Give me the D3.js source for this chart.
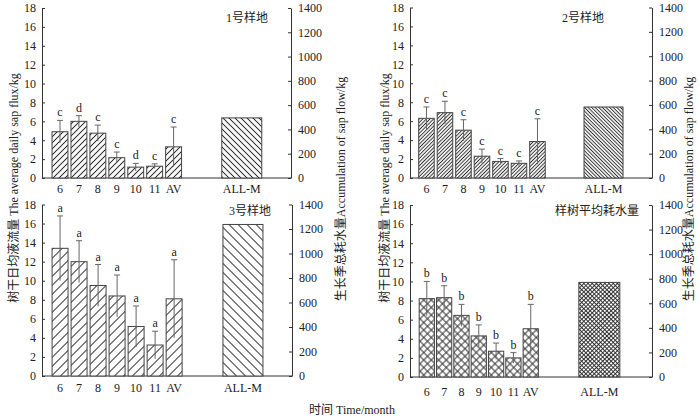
<!DOCTYPE html>
<html><head><meta charset="utf-8">
<script src="https://cdn.jsdelivr.net/npm/d3@7"></script>
<style>
body{margin:0;background:#fff;}
svg text{font-family:"Liberation Serif","Times New Roman","Noto Sans CJK SC",serif;fill:#222;}
</style></head>
<body><svg id="c" width="700" height="419"></svg>
<script>
// ---- data ----
const months = ["6","7","8","9","10","11","AV"];
const totalLabel = "ALL-M";
const leftTicks = [0,2,4,6,8,10,12,14,16,18];
const rightTicks = [0,200,400,600,800,1000,1200,1400];

const site1Mean = [4.9, 6.0, 4.75, 2.15, 1.15, 1.25, 3.3];
const site1Err  = [1.2, 0.6, 0.85, 0.6, 0.4, 0.25, 2.1];
const site1Letters = ["c","d","c","c","d","c","c"];
const site1Total = 495;

const site2Mean = [6.3, 6.9, 5.05, 2.3, 1.75, 1.55, 3.85];
const site2Err  = [1.2, 1.2, 1.1, 0.75, 0.3, 0.25, 2.4];
const site2Letters = ["c","c","c","c","c","c","c"];
const site2Total = 583;

const site3Mean = [13.4, 12.0, 9.5, 8.4, 5.2, 3.25, 8.1];
const site3Err  = [3.4, 2.2, 2.2, 2.2, 2.15, 1.45, 4.1];
const site3Letters = ["a","a","a","a","a","a","a"];
const site3Total = 1237;

const avgMean = [8.2, 8.3, 6.45, 4.3, 2.7, 2.0, 5.05];
const avgErr  = [1.8, 1.25, 1.15, 1.15, 0.85, 0.55, 2.55];
const avgLetters = ["b","b","b","b","b","b","b"];
const avgTotal = 770;

const titles = ["1号样地","2号样地","3号样地","样树平均耗水量"];
const leftLabel = "树干日均液流量 The average daily sap flux/kg";
const rightLabel = "生长季总耗水量Accumulation of sap flow/kg";
const xLabel = "时间 Time/month";

// ---- drawing ----
const FONT = '"Liberation Serif","Times New Roman","Noto Sans CJK SC",serif';
const svg = d3.select("#c");
const defs = svg.append("defs");
const ink = "#333";

function hatch(id, h, angle, cross){
  const s = h/Math.SQRT2;
  const p = defs.append("pattern").attr("id",id).attr("patternUnits","userSpaceOnUse")
    .attr("width",s).attr("height",s).attr("patternTransform",`rotate(${angle})`);
  p.append("rect").attr("width",s).attr("height",s).attr("fill","#fff");
  p.append("line").attr("x1",s/2).attr("y1",0).attr("x2",s/2).attr("y2",s)
    .attr("stroke",ink).attr("stroke-width",1);
  if(cross) p.append("line").attr("x1",0).attr("y1",s/2).attr("x2",s).attr("y2",s/2)
    .attr("stroke",ink).attr("stroke-width",1);
}
hatch("p1m",6,45,false); hatch("p1t",6,-45,false);
hatch("p2m",3.6,45,false); hatch("p2t",3.6,-45,false);
hatch("p3m",9,45,false); hatch("p3t",9,-45,false);
hatch("p4m",7.5,45,true); hatch("p4t",4.2,45,true);

const panels = [
  {mean:site1Mean, err:site1Err, letters:site1Letters, total:site1Total, title:titles[0],
   x0:42,x1:291,yTop:8,yBot:178, dom:[-0.95,12.2], allPos:9.6, allW:40, bw:0.84,
   pm:"p1m",pt:"p1t", tx:247, ty:22, xly:193},
  {mean:site2Mean, err:site2Err, letters:site2Letters, total:site2Total, title:titles[1],
   x0:410,x1:652,yTop:7.5,yBot:178, dom:[-0.89,12.19], allPos:9.57, allW:39, bw:0.84,
   pm:"p2m",pt:"p2t", tx:583, ty:22, xly:193},
  {mean:site3Mean, err:site3Err, letters:site3Letters, total:site3Total, title:titles[2],
   x0:42,x1:292,yTop:204.5,yBot:376, dom:[-0.95,12.2], allPos:9.62, allW:40, bw:0.84,
   pm:"p3m",pt:"p3t", tx:250, ty:215, xly:392},
  {mean:avgMean, err:avgErr, letters:avgLetters, total:avgTotal, title:titles[3],
   x0:410,x1:652,yTop:205,yBot:377, dom:[-0.97,13.0], allPos:9.96, allW:41, bw:0.88,
   pm:"p4m",pt:"p4t", tx:597, ty:215, xly:396}
];

panels.forEach(P=>{
  const g = svg.append("g");
  const x = d3.scaleLinear().domain(P.dom).range([P.x0,P.x1]);
  const y = d3.scaleLinear().domain([0,18]).range([P.yBot,P.yTop]);
  const y2 = d3.scaleLinear().domain([0,1400]).range([P.yBot,P.yTop]);
  const pitch = x(1)-x(0);
  const bw = pitch*P.bw;

  // axes
  const la = g.append("g").attr("transform",`translate(${P.x0},0)`)
    .call(d3.axisLeft(y).tickValues(leftTicks).tickFormat(d3.format("d")).tickSizeInner(-3).tickSizeOuter(0).tickPadding(6));
  const ra = g.append("g").attr("transform",`translate(${P.x1},0)`)
    .call(d3.axisRight(y2).tickValues(rightTicks).tickFormat(d3.format("d")).tickSizeInner(-3).tickSizeOuter(0).tickPadding(7));
  [la,ra].forEach(a=>{
    a.attr("font-family",FONT).attr("font-size",12);
    a.select(".domain").attr("stroke",ink).attr("stroke-width",1);
    a.selectAll(".tick line").attr("stroke",ink);
    a.selectAll(".tick text").attr("font-size",12).attr("fill","#222");
  });
  g.append("line").attr("x1",P.x0).attr("x2",P.x1).attr("y1",P.yBot).attr("y2",P.yBot)
    .attr("stroke",ink).attr("stroke-width",1);

  // monthly bars
  const idx = months.map((m,i)=>i);
  g.selectAll("rect.m").data(idx).join("rect")
    .attr("x",i=>x(i)-bw/2).attr("width",bw)
    .attr("y",i=>y(P.mean[i])).attr("height",i=>y(0)-y(P.mean[i]))
    .attr("fill",`url(#${P.pm})`).attr("stroke","#444").attr("stroke-width",1);
  // error bars
  g.selectAll("line.e").data(idx).join("line")
    .attr("x1",i=>x(i)).attr("x2",i=>x(i))
    .attr("y1",i=>y(P.mean[i]+P.err[i])).attr("y2",i=>y(Math.max(0,P.mean[i]-P.err[i])))
    .attr("stroke","#666").attr("stroke-width",1);
  g.selectAll("line.c").data(idx).join("line")
    .attr("x1",i=>x(i)-3).attr("x2",i=>x(i)+3)
    .attr("y1",i=>y(P.mean[i]+P.err[i])).attr("y2",i=>y(P.mean[i]+P.err[i]))
    .attr("stroke","#666").attr("stroke-width",1);
  // letters
  g.selectAll("text.l").data(idx).join("text")
    .attr("x",i=>x(i)).attr("y",i=>y(P.mean[i]+P.err[i])-4)
    .attr("text-anchor","middle").attr("font-size",12).text(i=>P.letters[i]);
  // month labels
  g.selectAll("text.x").data(idx).join("text")
    .attr("x",i=>x(i)).attr("y",P.xly)
    .attr("text-anchor","middle").attr("font-size",12).text(i=>months[i]);

  // total bar (right axis)
  g.append("rect").attr("x",x(P.allPos)-P.allW/2).attr("width",P.allW)
    .attr("y",y2(P.total)).attr("height",y2(0)-y2(P.total))
    .attr("fill",`url(#${P.pt})`).attr("stroke","#444").attr("stroke-width",1);
  g.append("text").attr("x",x(P.allPos)).attr("y",P.xly)
    .attr("text-anchor","middle").attr("font-size",12).text(totalLabel);

  // title
  g.append("text").attr("x",P.tx).attr("y",P.ty).attr("text-anchor","middle")
    .attr("font-size",12).text(P.title);
});

// axis titles
function vlabel(txt, cx, cy){
  svg.append("text").attr("transform",`translate(${cx},${cy}) rotate(-90)`)
    .attr("text-anchor","middle").attr("dominant-baseline","middle")
    .attr("font-size",12).text(txt);
}
vlabel(leftLabel, 15, 188);
vlabel(rightLabel, 342, 189);
vlabel(leftLabel, 386, 188);
vlabel(rightLabel, 690, 189);

svg.append("text").attr("x",352).attr("y",414).attr("text-anchor","middle")
  .attr("font-size",12).text(xLabel);
</script></body></html>
